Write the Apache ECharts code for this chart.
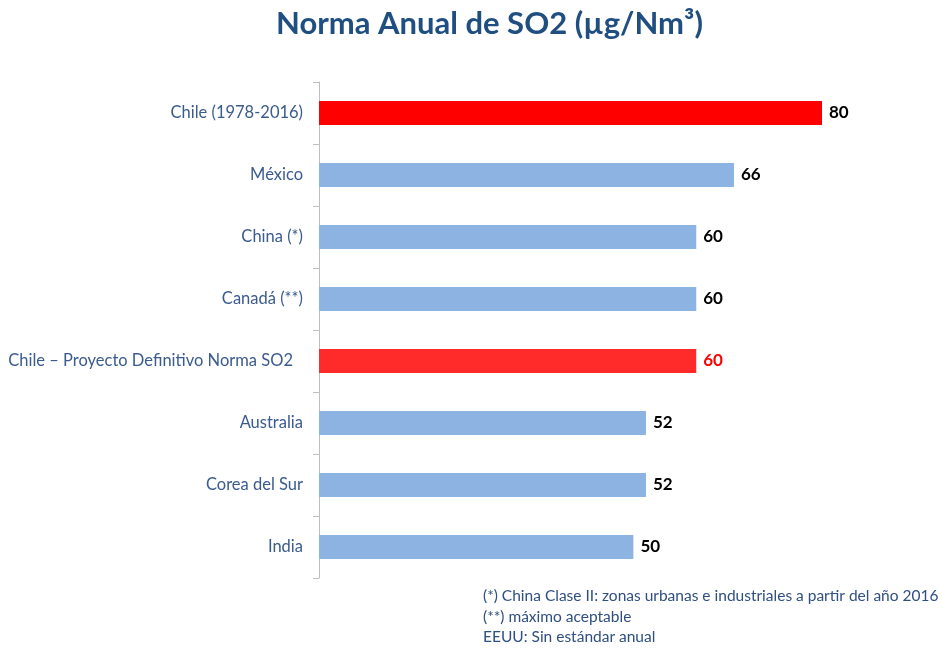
<!DOCTYPE html>
<html><head><meta charset="utf-8">
<script src="https://cdn.jsdelivr.net/npm/echarts@6/dist/echarts.min.js"></script>
<style>html,body{margin:0;padding:0;background:#fff}#c{width:943px;height:652px}</style>
</head><body><div id="c"></div>
<script>
const categories = ["Chile (1978-2016)","México","China (*)","Canadá (**)","Chile – Proyecto Definitivo Norma SO2","Australia","Corea del Sur","India"];
const values = [80,66,60,60,60,52,52,50];
const barColors = ["#ff0000","#8db3e2","#8db3e2","#8db3e2","#ff2b2b","#8db3e2","#8db3e2","#8db3e2"];
const labelColors = ["#000","#000","#000","#000","#ff0000","#000","#000","#000"];
const footnotes = ["(*) China Clase II: zonas urbanas e industriales a partir del año 2016","(**) máximo aceptable","EEUU: Sin estándar anual"];
const FONT = "Lato, 'Open Sans', sans-serif";
const chart = echarts.init(document.getElementById('c'));
chart.setOption({
  animation:false,
  title:{text:"Norma Anual de SO2 (µg/Nm³)",left:271,top:3,textStyle:{fontFamily:FONT,fontSize:31,fontWeight:'bold',color:'#1f4e80'}},
  grid:{left:319,right:121,top:82,bottom:74},
  xAxis:{type:'value',min:0,max:80,show:false},
  yAxis:{type:'category',inverse:true,
    data:categories.map((c,i)=>i===4?{value:c,textStyle:{padding:[0,10,0,0]}}:c),
    axisLine:{lineStyle:{color:'#bfbfbf',width:1}},
    axisTick:{show:true,length:6,lineStyle:{color:'#bfbfbf'}},
    axisLabel:{fontFamily:FONT,fontSize:16.5,color:'#3a5b8e',margin:16}},
  series:[{type:'bar',barWidth:24,
    data:values.map((v,i)=>({value:v,itemStyle:{color:barColors[i]},label:{color:labelColors[i]}})),
    label:{show:true,position:'right',distance:7,fontFamily:FONT,fontSize:17,fontWeight:'bold'}}],
  graphic:footnotes.map((t,i)=>({type:'text',left:483,top:588+i*20.5,style:{text:t,fontFamily:FONT,fontSize:15.5,fill:'#2f4f80'}}))
});
</script></body></html>
